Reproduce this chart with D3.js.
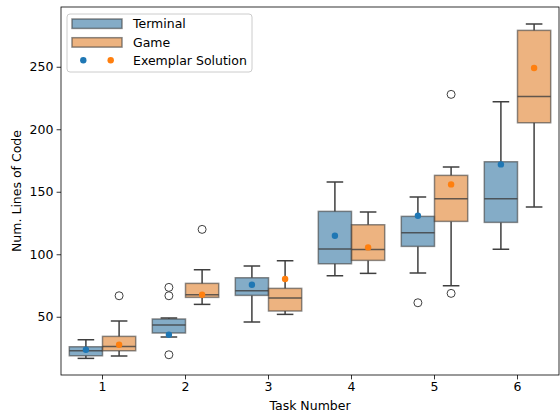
<!DOCTYPE html>
<html>
<head>
<meta charset="utf-8">
<script src="https://cdn.jsdelivr.net/npm/d3@7"></script>
<style>
  body { margin: 0; background: #fff; }
  text { font-family: "DejaVu Sans", sans-serif; }
</style>
</head>
<body>
<div id="chart"></div>
<script>
// box stats per task: [whiskerLo, q1, median, q3, whiskerHi]
const tasks = ["1", "2", "3", "4", "5", "6"];
const terminalBoxes = [
    [16.7, 18.8, 22.8, 26, 31.6],
    [33.8, 37, 43.4, 48.2, 49],
    [45.8, 67.1, 70.8, 81.2, 90.6],
    [82.8, 92.4, 104.2, 134.3, 157.8],
    [85, 106.3, 117.2, 130.3, 145.8],
    [104, 125.5, 144.4, 174, 222]
];
const gameBoxes = [
    [18.6, 22.8, 26.3, 34.3, 46.6],
    [59.9, 65.5, 67.6, 76.7, 87.6],
    [51.9, 54.6, 65, 72.7, 94.8],
    [84.7, 95.1, 103.9, 123.6, 133.8],
    [74.8, 126.3, 144.4, 163.1, 169.8],
    [137.8, 205.2, 226.3, 279.1, 284.2]
];
const terminalOutliers = [[], [73.5, 66.8, 19.6], [], [], [61.2], []];
const gameOutliers = [[66.8], [119.9], [], [], [227.9, 68.7], []];
const terminalExemplar = [23.6, 35.6, 75.6, 114.8, 130.8, 171.9];
const gameExemplar = [27.6, 67.6, 80.2, 105.5, 155.9, 249];
const yTicks = [50, 100, 150, 200, 250];

let series = [
    {name: "Terminal", boxes: terminalBoxes, outliers: terminalOutliers, exemplar: terminalExemplar,
     fill: "#3274a1", dot: "#1f77b4", offset: 0},
    {name: "Game", boxes: gameBoxes, outliers: gameOutliers, exemplar: gameExemplar,
     fill: "#e1812c", dot: "#ff7f0e", offset: 1}
];

let margin = {top: 7, right: 1, bottom: 39, left: 61};
let width = 560 - margin.left - margin.right;
let height = 414 - margin.top - margin.bottom;
let gray = "#3f3f3f";
let fontSize = "12.5px";

let svg = d3.select("#chart").append("svg")
    .attr("width", 560)
    .attr("height", 414);
let g = svg.append("g").attr("transform", "translate(" + margin.left + "," + margin.top + ")");

let xScale = d3.scaleBand().domain(tasks).range([0, width]).padding(0);
let yScale = d3.scaleLinear().domain([3.4, 297.8]).range([height, 0]);
let boxW = xScale.bandwidth() * 0.4;
let capW = boxW / 2;

function boxCenter(i, s) {
    return xScale(tasks[i]) + xScale.bandwidth() * 0.1 + boxW * s.offset + boxW / 2;
}

series.forEach(s => {
    let grp = g.append("g");
    let items = grp.selectAll("g.box").data(s.boxes).enter().append("g").attr("class", "box");

    // whiskers
    items.append("line")
        .attr("x1", (d, i) => boxCenter(i, s)).attr("x2", (d, i) => boxCenter(i, s))
        .attr("y1", d => yScale(d[0])).attr("y2", d => yScale(d[1]))
        .attr("stroke", gray).attr("stroke-width", 1.5);
    items.append("line")
        .attr("x1", (d, i) => boxCenter(i, s)).attr("x2", (d, i) => boxCenter(i, s))
        .attr("y1", d => yScale(d[3])).attr("y2", d => yScale(d[4]))
        .attr("stroke", gray).attr("stroke-width", 1.5);
    // caps
    [0, 4].forEach(k => {
        items.append("line")
            .attr("x1", (d, i) => boxCenter(i, s) - capW / 2).attr("x2", (d, i) => boxCenter(i, s) + capW / 2)
            .attr("y1", d => yScale(d[k])).attr("y2", d => yScale(d[k]))
            .attr("stroke", gray).attr("stroke-width", 1.5);
    });
    // box
    items.append("rect")
        .attr("x", (d, i) => boxCenter(i, s) - boxW / 2)
        .attr("y", d => yScale(d[3]))
        .attr("width", boxW)
        .attr("height", d => yScale(d[1]) - yScale(d[3]))
        .attr("fill", s.fill).attr("fill-opacity", 0.6)
        .attr("stroke", gray).attr("stroke-opacity", 0.6).attr("stroke-width", 1.5);
    // median
    items.append("line")
        .attr("x1", (d, i) => boxCenter(i, s) - boxW / 2).attr("x2", (d, i) => boxCenter(i, s) + boxW / 2)
        .attr("y1", d => yScale(d[2])).attr("y2", d => yScale(d[2]))
        .attr("stroke", gray).attr("stroke-opacity", 0.8).attr("stroke-width", 1.5);

    // outliers
    let flat = [];
    s.outliers.forEach((arr, i) => arr.forEach(v => flat.push({i: i, v: v})));
    grp.selectAll("circle.out").data(flat).enter().append("circle")
        .attr("class", "out")
        .attr("cx", d => boxCenter(d.i, s))
        .attr("cy", d => yScale(d.v))
        .attr("r", 4)
        .attr("fill", "none").attr("stroke", gray).attr("stroke-width", 1);
});

// exemplar dots on top
series.forEach(s => {
    g.selectAll(null).data(s.exemplar).enter().append("circle")
        .attr("cx", (d, i) => boxCenter(i, s))
        .attr("cy", d => yScale(d))
        .attr("r", 3.2)
        .attr("fill", s.dot);
});

// axes
let xAxis = g.append("g").attr("transform", "translate(0," + height + ")")
    .call(d3.axisBottom(xScale).tickSize(4.4).tickPadding(3.2));
let yAxis = g.append("g").call(d3.axisLeft(yScale).tickValues(yTicks).tickSize(4.4).tickPadding(3.2));
[xAxis, yAxis].forEach(a => {
    a.select(".domain").remove();
    a.selectAll("line").attr("stroke", "#000").attr("stroke-width", 0.8);
    a.selectAll("text").attr("font-size", fontSize).attr("fill", "#000")
        .style("font-family", "DejaVu Sans, sans-serif");
});

g.append("rect")
    .attr("width", width).attr("height", height)
    .attr("fill", "none").attr("stroke", "#000").attr("stroke-width", 0.8);

svg.append("text")
    .attr("x", margin.left + width / 2).attr("y", 410)
    .attr("text-anchor", "middle").attr("font-size", fontSize)
    .text("Task Number");
svg.append("text")
    .attr("transform", "translate(21," + (margin.top + height / 2) + ") rotate(-90)")
    .attr("text-anchor", "middle").attr("font-size", fontSize)
    .text("Num. Lines of Code");

// legend
let legend = svg.append("g").attr("transform", "translate(67,14)");
legend.append("rect")
    .attr("width", 185).attr("height", 58).attr("rx", 3)
    .attr("fill", "#fff").attr("fill-opacity", 0.8)
    .attr("stroke", "#ccc").attr("stroke-width", 1);
series.forEach((s, i) => {
    legend.append("rect")
        .attr("x", 5).attr("y", 5 + i * 18.7).attr("width", 50).attr("height", 9.4)
        .attr("fill", s.fill).attr("fill-opacity", 0.6)
        .attr("stroke", gray).attr("stroke-opacity", 0.6).attr("stroke-width", 1.5);
    legend.append("text")
        .attr("x", 66).attr("y", 10 + i * 18.7).attr("dy", "0.35em")
        .attr("font-size", fontSize).text(s.name);
    legend.append("circle")
        .attr("cx", 16.3 + i * 27.4).attr("cy", 46.3).attr("r", 3.2).attr("fill", s.dot);
});
legend.append("text")
    .attr("x", 66).attr("y", 46.3).attr("dy", "0.35em")
    .attr("font-size", fontSize).text("Exemplar Solution");
</script>
</body>
</html>
